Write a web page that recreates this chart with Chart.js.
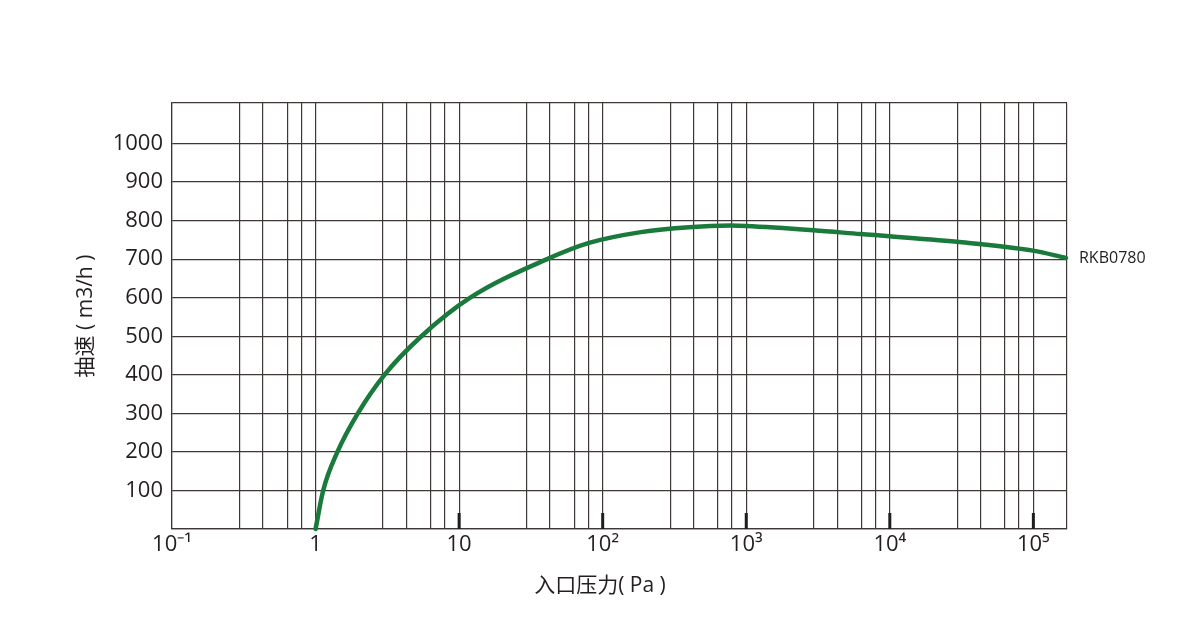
<!DOCTYPE html>
<html>
<head>
<meta charset="utf-8">
<script src="https://cdn.jsdelivr.net/npm/chart.js@4"></script>
<style>
  html, body { margin: 0; padding: 0; background: #ffffff; }
  #wrap { width: 1200px; height: 642px; }
</style>
</head>
<body>
<div id="wrap"><canvas id="c" width="1200" height="642"></canvas></div>
<script>
// ---- data ----
const seriesName = 'RKB0780';
const pressure = [1, 1.13, 1.42, 1.97, 3.02, 5.46, 11.95, 41.0, 80.3, 184.5, 398, 779, 1000, 2940, 6240, 29400, 99500, 168700];
const speed    = [0, 100, 200, 300, 400, 500, 600, 700, 742, 770, 783, 787, 786, 775, 765, 745, 722, 703];

const xDecades = [0.1, 1, 10, 100, 1000, 10000, 100000];
const xDecadeLabels = ['10\u207B\u00B9', '1', '10', '10\u00B2', '10\u00B3', '10\u2074', '10\u2075'];
const xMinorFactors = [2.95, 4.3, 6.35, 7.95];
const xStubDecades = [10, 100, 1000, 10000, 100000];
const xMin = 0.1, xMax = 171500;

const yTicks = [100, 200, 300, 400, 500, 600, 700, 800, 900, 1000];
const yMin = 0, yMax = 1105;

const xTitle = '入口压力( Pa )';
const yTitle = '抽速 ( m3/h )';

// ---- styling ----
const gridColor = '#3d3836';
const lineColor = '#1a7a3c';
const textColor = '#231f20';
const fontFamily = '"Open Sans", "Noto Sans CJK SC", sans-serif';

// x tick list (decades + minor grid positions)
const xTickValues = [];
xDecades.forEach(d => {
  xTickValues.push(d);
  xMinorFactors.forEach(f => { if (d * f < xMax) xTickValues.push(d * f); });
});
xTickValues.push(xMax);
xTickValues.sort((a, b) => a - b);

const decorPlugin = {
  id: 'decor',
  afterDatasetsDraw(chart) {
    const ctx = chart.ctx;
    const xs = chart.scales.x;
    const ca = chart.chartArea;
    ctx.save();
    // decade stubs
    ctx.strokeStyle = '#1e1e1e';
    ctx.lineWidth = 3;
    xStubDecades.forEach(v => {
      const px = xs.getPixelForValue(v);
      ctx.beginPath();
      ctx.moveTo(px, ca.bottom);
      ctx.lineTo(px, ca.bottom - 16);
      ctx.stroke();
    });
    // series label at end of curve
    const meta = chart.getDatasetMeta(0);
    const last = meta.data[meta.data.length - 1];
    ctx.fillStyle = textColor;
    ctx.font = '16px ' + fontFamily;
    ctx.textAlign = 'left';
    ctx.textBaseline = 'middle';
    ctx.fillText(seriesName, last.x + 13, last.y);
    // x axis title
    ctx.font = '21px ' + fontFamily;
    ctx.textAlign = 'center';
    ctx.fillText(xTitle, 600, 586);
    ctx.restore();
  }
};

new Chart(document.getElementById('c'), {
  type: 'line',
  data: {
    datasets: [{
      label: seriesName,
      data: pressure.map((p, i) => ({ x: p, y: speed[i] })),
      borderColor: lineColor,
      borderWidth: 4.5,
      pointRadius: 0,
      cubicInterpolationMode: 'monotone',
      borderCapStyle: 'round',
      fill: false,
      clip: false
    }]
  },
  options: {
    responsive: false,
    animation: false,
    devicePixelRatio: 1,
    layout: { padding: { left: 0, right: 133, top: 103, bottom: 0 } },
    plugins: { legend: { display: false }, tooltip: { enabled: false } },
    scales: {
      x: {
        type: 'logarithmic',
        min: xMin,
        max: xMax,
        afterBuildTicks: s => { s.ticks = xTickValues.map(v => ({ value: v })); },
        afterFit: s => { s.height = 113; },
        grid: { color: gridColor, lineWidth: 1.2, drawTicks: false },
        border: { color: gridColor, width: 1.2 },
        ticks: {
          autoSkip: false,
          maxRotation: 0,
          padding: 3,
          color: textColor,
          font: { family: fontFamily, size: 22 },
          callback: (v) => {
            const i = xDecades.findIndex(d => Math.abs(d - v) / d < 1e-6);
            return i >= 0 ? xDecadeLabels[i] : '';
          }
        }
      },
      y: {
        type: 'linear',
        min: yMin,
        max: yMax,
        afterBuildTicks: s => { s.ticks = [yMin, ...yTicks, yMax].map(v => ({ value: v })); },
        afterFit: s => { s.width = 172; },
        grid: { color: gridColor, lineWidth: 1.2, drawTicks: false },
        border: { color: gridColor, width: 1.2 },
        ticks: {
          padding: 9,
          color: textColor,
          font: { family: fontFamily, size: 22 },
          callback: (v) => yTicks.includes(v) ? String(v) : ''
        },
        title: {
          display: true,
          text: yTitle,
          color: textColor,
          font: { family: fontFamily, size: 21 },
          padding: { top: 73, bottom: 0 }
        }
      }
    }
  },
  plugins: [decorPlugin]
});
</script>
</body>
</html>
